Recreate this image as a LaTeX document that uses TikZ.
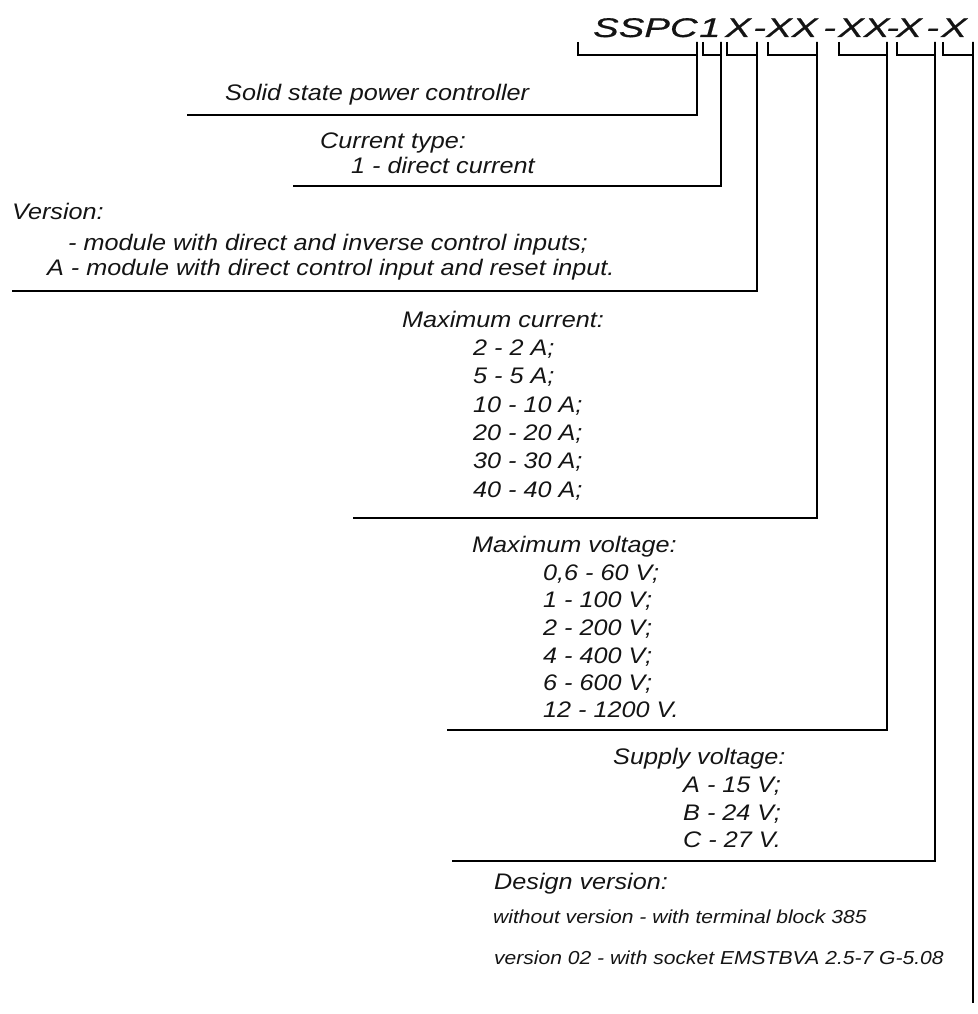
\documentclass[tikz,border=0pt]{standalone}
\usepackage{fontspec}
\newfontfamily\lblfont[FakeStretch=1.12]{Liberation Sans}
\newfontfamily\ttlfont[FakeStretch=1.42,FakeBold=0.6]{Liberation Sans}
\definecolor{ink}{HTML}{141414}
\begin{document}
\begin{tikzpicture}[x=1pt,y=-1pt,
  lbl/.style={anchor=base west, inner sep=0pt, text=ink, font={\lblfont\itshape\fontsize{22.5}{27}\selectfont}},
  lble/.style={lbl, anchor=base east},
  small/.style={lbl, font={\lblfont\itshape\fontsize{18.8}{22}\selectfont}},
  ttl/.style={anchor=base west, inner sep=0pt, text=ink, font={\ttlfont\itshape\fontsize{27}{30}\selectfont}},
  rule/.style={line width=1.8pt, black}]
\useasboundingbox (0,0) rectangle (977,1014);

% ---- title segments
\node[ttl] (tS)   at (593,37) {SSPC};
\node[ttl] (t1)   at (699,37) {1};
\node[ttl] (tX1)  at (725,37) {X};
\node[ttl] (d1)   at (753,37) {-};
\node[ttl] (tXX1) at (766,37) {XX};
\node[ttl] (d2)   at (823,37) {-};
\node[ttl] (tXX2) at (838,37) {XX};
\node[ttl] (d3)   at (886,37) {-};
\node[ttl] (tX2)  at (896,37) {X};
\node[ttl] (d4)   at (926,37) {-};
\node[ttl] (tX3)  at (941,37) {X};

% ---- bracket coordinates
\coordinate (a1) at (578,42); \coordinate (b1) at (697,42); \coordinate (e1) at (187,115);
\coordinate (a2) at (703,42); \coordinate (b2) at (721,42); \coordinate (e2) at (293,186);
\coordinate (a3) at (727,42); \coordinate (b3) at (757,42); \coordinate (e3) at (12,291);
\coordinate (a4) at (768,42); \coordinate (b4) at (817,42); \coordinate (e4) at (353,518);
\coordinate (a5) at (839,42); \coordinate (b5) at (887,42); \coordinate (e5) at (447,730);
\coordinate (a6) at (897,42); \coordinate (b6) at (935,42); \coordinate (e6) at (452,861);
\coordinate (a7) at (943,42); \coordinate (b7) at (973,42); \coordinate (e7) at (973,1003);

\draw[rule] (a1) -- ++(0,13) -| (b1) |- (e1);
\draw[rule] (a2) -- ++(0,13) -| (b2) |- (e2);
\draw[rule] (a3) -- ++(0,13) -| (b3) |- (e3);
\draw[rule] (a4) -- ++(0,13) -| (b4) |- (e4);
\draw[rule] (a5) -- ++(0,13) -| (b5) |- (e5);
\draw[rule] (a6) -- ++(0,13) -| (b6) |- (e6);
\draw[rule] (a7) -- ++(0,13) -| (b7) -- (e7);

% ---- labels
\node[lbl] (solid) at (225,101) {Solid state power controller};

\node[lbl] (ct)  at (320,148) {Current type:};
\node[lbl] (ct1) at (351,173) {1 - direct current};

\node[lbl] (ver)  at (12,219) {Version:};
\node[lbl] (ver1) at (68,250) {- module with direct and inverse control inputs;};
\node[lbl] (ver2) at (47,275) {A - module with direct control input and reset input.};

\node[lbl] (mc)  at (402,327) {Maximum current:};
\node[lbl] (mc1) at (473,355) {2 - 2 A;};
\node[lbl] (mc2) at (473,383) {5 - 5 A;};
\node[lbl] (mc3) at (473,412) {10 - 10 A;};
\node[lbl] (mc4) at (473,440) {20 - 20 A;};
\node[lbl] (mc5) at (473,468) {30 - 30 A;};
\node[lbl] (mc6) at (473,497) {40 - 40 A;};

\node[lbl] (mv)  at (472,552) {Maximum voltage:};
\node[lbl] (mv1) at (543,580) {0,6 - 60 V;};
\node[lbl] (mv2) at (543,607) {1 - 100 V;};
\node[lbl] (mv3) at (543,635) {2 - 200 V;};
\node[lbl] (mv4) at (543,663) {4 - 400 V;};
\node[lbl] (mv5) at (543,690) {6 - 600 V;};
\node[lbl] (mv6) at (543,717) {12 - 1200 V.};

\node[lbl]  (sv)  at (613,764) {Supply voltage:};
\node[lble] (sv1) at (781,792) {A - 15 V;};
\node[lble] (sv2) at (781,820) {B - 24 V;};
\node[lble] (sv3) at (781,847) {C - 27 V.};

\node[lbl]   (dv)  at (494,889) {Design version:};
\node[small] (dv1) at (493,923) {without version - with terminal block 385};
\node[small] (dv2) at (494,964) {version 02 - with socket EMSTBVA 2.5-7 G-5.08};
\end{tikzpicture}
\end{document}
